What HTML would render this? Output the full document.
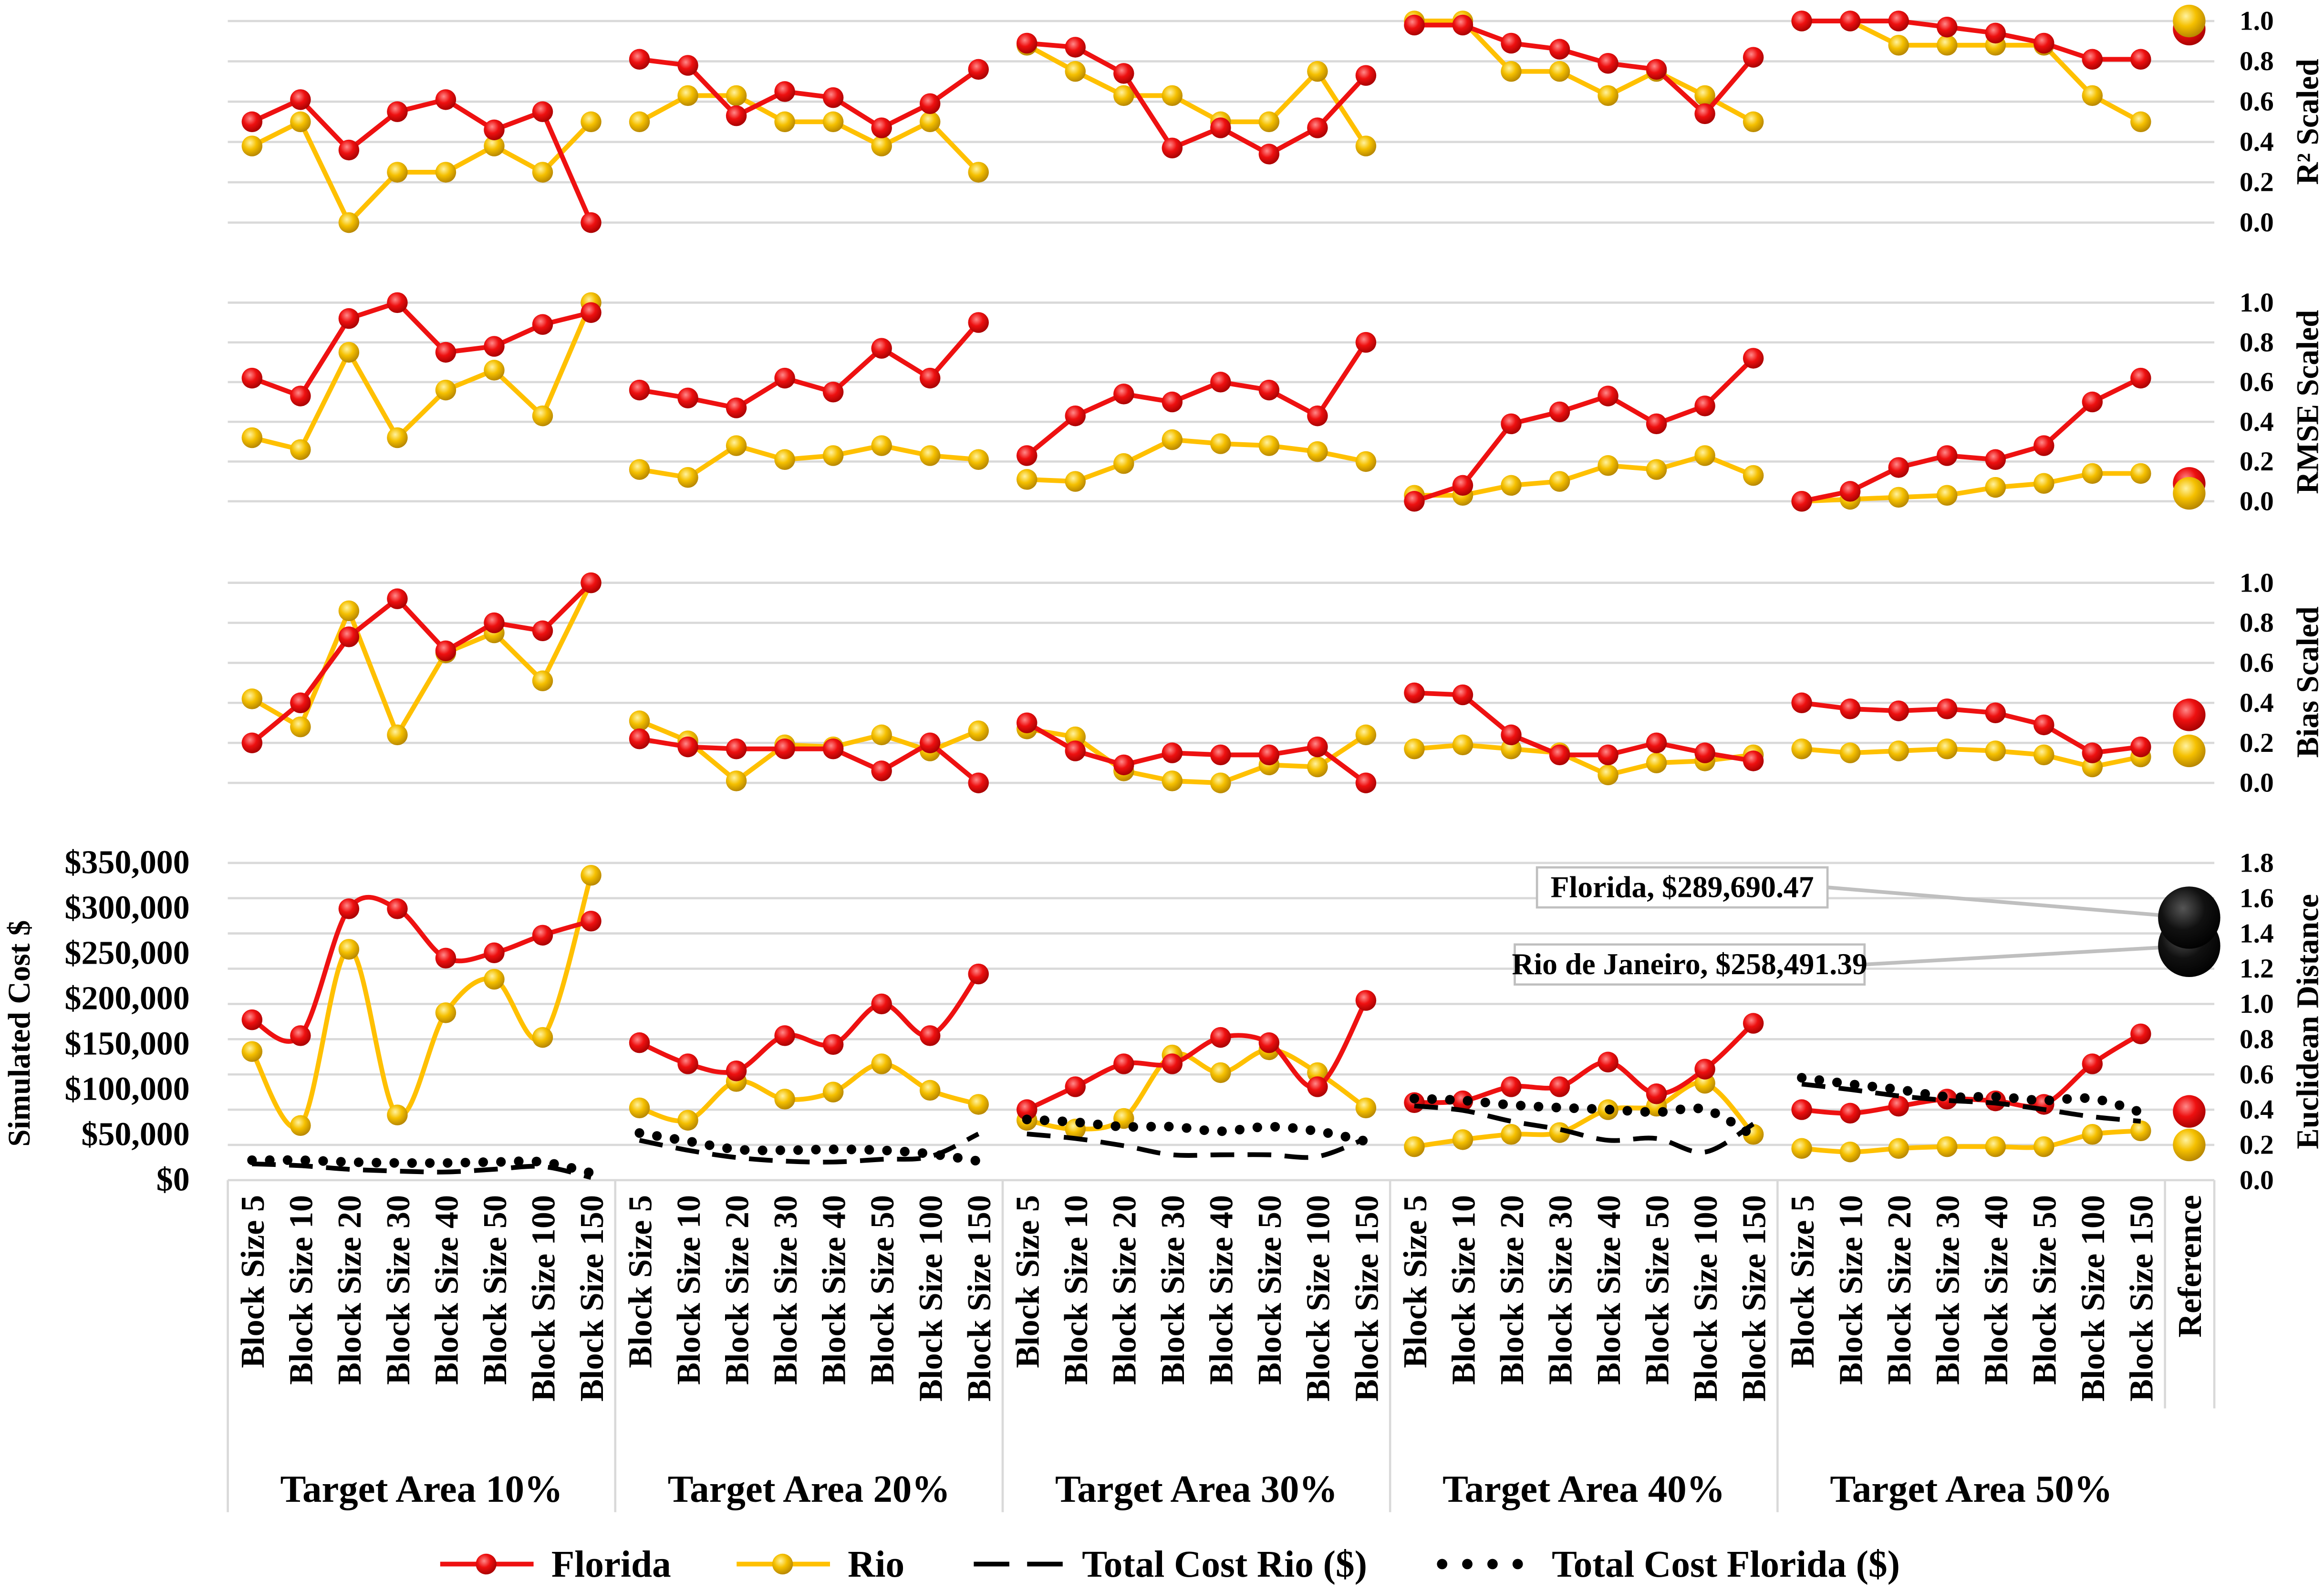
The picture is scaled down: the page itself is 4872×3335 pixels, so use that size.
<!DOCTYPE html>
<html><head><meta charset="utf-8"><style>
html,body{margin:0;padding:0;background:#fff;}
svg{display:block;}
text{font-family:"Liberation Serif",serif;font-weight:bold;fill:#000;}
</style></head><body>
<svg id="chart" width="4872" height="3335" viewBox="0 0 1568 1073" xmlns="http://www.w3.org/2000/svg">
<defs>
<radialGradient id="gRed" cx="0.4" cy="0.35" r="0.7"><stop offset="0" stop-color="#ff8a8a"/><stop offset="0.45" stop-color="#ee1010"/><stop offset="1" stop-color="#a00000"/></radialGradient>
<radialGradient id="gYel" cx="0.4" cy="0.35" r="0.7"><stop offset="0" stop-color="#fff2a0"/><stop offset="0.45" stop-color="#f5c000"/><stop offset="1" stop-color="#b08000"/></radialGradient>
<radialGradient id="gBlk" cx="0.4" cy="0.35" r="0.7"><stop offset="0" stop-color="#555"/><stop offset="0.5" stop-color="#111"/><stop offset="1" stop-color="#000"/></radialGradient>
</defs>
<g id="grid"></g>
<g id="axes"></g>
<g id="marks"></g>
<g id="legend"></g>
</svg>
<script>
const groups = ["Target Area 10%","Target Area 20%","Target Area 30%","Target Area 40%","Target Area 50%"];
const blocks = ["Block Size 5","Block Size 10","Block Size 20","Block Size 30","Block Size 40","Block Size 50","Block Size 100","Block Size 150"];
const scaledTicks = ["0.0","0.2","0.4","0.6","0.8","1.0"];
const edTicks = ["0.0","0.2","0.4","0.6","0.8","1.0","1.2","1.4","1.6","1.8"];
const costTicks = ["$0","$50,000","$100,000","$150,000","$200,000","$250,000","$300,000","$350,000"];

const r2Florida = [0.5,0.61,0.36,0.55,0.61,0.46,0.55,0.0, 0.81,0.78,0.53,0.65,0.62,0.47,0.59,0.76, 0.89,0.87,0.74,0.37,0.47,0.34,0.47,0.73, 0.98,0.98,0.89,0.86,0.79,0.76,0.54,0.82, 1.0,1.0,1.0,0.97,0.94,0.89,0.81,0.81];
const r2Rio = [0.38,0.5,0.0,0.25,0.25,0.38,0.25,0.5, 0.5,0.63,0.63,0.5,0.5,0.38,0.5,0.25, 0.88,0.75,0.63,0.63,0.5,0.5,0.75,0.38, 1.0,1.0,0.75,0.75,0.63,0.75,0.63,0.5, 1.0,1.0,0.88,0.88,0.88,0.88,0.63,0.5];
const rmseFlorida = [0.62,0.53,0.92,1.0,0.75,0.78,0.89,0.95, 0.56,0.52,0.47,0.62,0.55,0.77,0.62,0.90, 0.23,0.43,0.54,0.50,0.60,0.56,0.43,0.80, 0.0,0.08,0.39,0.45,0.53,0.39,0.48,0.72, 0.0,0.05,0.17,0.23,0.21,0.28,0.50,0.62];
const rmseRio = [0.32,0.26,0.75,0.32,0.56,0.66,0.43,1.0, 0.16,0.12,0.28,0.21,0.23,0.28,0.23,0.21, 0.11,0.10,0.19,0.31,0.29,0.28,0.25,0.20, 0.03,0.03,0.08,0.10,0.18,0.16,0.23,0.13, 0.0,0.01,0.02,0.03,0.07,0.09,0.14,0.14];
const biasFlorida = [0.2,0.4,0.73,0.92,0.66,0.8,0.76,1.0, 0.22,0.18,0.17,0.17,0.17,0.06,0.20,0.0, 0.30,0.16,0.09,0.15,0.14,0.14,0.18,0.0, 0.45,0.44,0.24,0.14,0.14,0.2,0.15,0.11, 0.4,0.37,0.36,0.37,0.35,0.29,0.15,0.18];
const biasRio = [0.42,0.28,0.86,0.24,0.65,0.75,0.51,1.0, 0.31,0.21,0.01,0.19,0.18,0.24,0.16,0.26, 0.27,0.23,0.06,0.01,0.0,0.09,0.08,0.24, 0.17,0.19,0.17,0.15,0.04,0.10,0.11,0.14, 0.17,0.15,0.16,0.17,0.16,0.14,0.08,0.13];
const edFlorida = [0.91,0.82,1.54,1.54,1.26,1.29,1.39,1.47, 0.78,0.66,0.62,0.82,0.77,1.0,0.82,1.17, 0.40,0.53,0.66,0.66,0.81,0.78,0.53,1.02, 0.44,0.45,0.53,0.53,0.67,0.49,0.63,0.89, 0.40,0.38,0.42,0.46,0.45,0.43,0.66,0.83];
const edRio = [0.73,0.31,1.31,0.37,0.95,1.14,0.81,1.73, 0.41,0.34,0.56,0.46,0.50,0.66,0.51,0.43, 0.34,0.29,0.35,0.71,0.61,0.74,0.61,0.41, 0.19,0.23,0.26,0.27,0.40,0.42,0.55,0.26, 0.18,0.16,0.18,0.19,0.19,0.19,0.26,0.28];
const costRio = [18000,16000,12000,10000,9000,12000,15000,3000, 44000,33000,25000,21000,20000,23000,26000,51000, 51000,46000,38000,28000,28000,28000,26000,46000, 82000,77000,65000,56000,44000,46000,31000,62000, 106000,100000,93000,88000,85000,78000,70000,65000];
const costFlorida = [22000,22000,20000,19000,19000,20000,20000,8000, 52000,43000,34000,33000,34000,33000,29000,21000, 67000,64000,59000,59000,54000,59000,54000,43000, 90000,88000,83000,80000,78000,75000,78000,49000, 113000,106000,100000,92000,92000,88000,90000,75000];
const refR2 = [0.96,1.0], refRmse = [0.09,0.04], refBias = [0.34,0.16], refEd = [0.39,0.20];
const refCost = [289690.47,258491.39];
const refCostLabels = ["Florida, $289,690.47","Rio de Janeiro, $258,491.39"];

const NS="http://www.w3.org/2000/svg";
function mk(tag,attrs,parent,txt){const e=document.createElementNS(NS,tag);for(const k in attrs)e.setAttribute(k,attrs[k]);if(txt!==undefined)e.textContent=txt;parent.appendChild(e);return e;}
const grid=document.getElementById('grid'),axes=document.getElementById('axes'),marks=document.getElementById('marks'),legend=document.getElementById('legend');
const X0=153.7, STEP=32.675, XR=1494;
const xOf=i=>X0+STEP*(i+0.5);
const panels=[{top:14,bot:150},{top:204,bot:338},{top:393,bot:528}];
const scaleY=(p,v)=>p.bot-(p.bot-p.top)*v;
const CB=796, CT=582;
const yCost=v=>CB-(CB-CT)*v/350000;
const yEd=v=>CB-(CB-CT)*v/1.8;

panels.forEach((p,pi)=>{
  scaledTicks.forEach((t,k)=>{
    const y=scaleY(p,k/5);
    const l=mk('line',{x1:X0,x2:XR,y1:y,y2:y,stroke:'#d9d9d9','stroke-width':1.5},grid);
    
    
    const tx=mk('text',{x:1511,y:y+6,'font-size':18.5},axes,t);
    
    
  });
});
edTicks.forEach((t,k)=>{
  const y=yEd(k*0.2);
  const l=mk('line',{x1:X0,x2:XR,y1:y,y2:y,stroke:'#d9d9d9','stroke-width':1.5},grid);
  
  
  const tx=mk('text',{x:1511,y:y+6,'font-size':18.5},axes,t);
  
  
});
costTicks.forEach((t,k)=>{
  const tx=mk('text',{x:128,y:yCost(k*50000)+7,'font-size':22.5,'text-anchor':'end'},axes,t);
  
  
});
const titles=[["R² Scaled",82],["RMSE Scaled",271],["Bias Scaled",460],["Euclidean Distance",689]];
titles.forEach(([t,y])=>{
  const tx=mk('text',{x:1564,y:y,'font-size':21,'text-anchor':'middle',transform:`rotate(-90 1564 ${y})`},axes,t);
  
  
});
{const tx=mk('text',{x:20,y:697,'font-size':21,'text-anchor':'middle',transform:'rotate(-90 20 697)'},axes,'Simulated Cost $');

}
for(let g=0;g<=5;g++){
  const x=X0+STEP*8*g;
  const l=mk('line',{x1:x,x2:x,y1:CB,y2:g<5?1020:950,stroke:'#d9d9d9','stroke-width':1.5},axes);
  
  
}
{const l=mk('line',{x1:XR,x2:XR,y1:CB,y2:950,stroke:'#d9d9d9','stroke-width':1.5},axes);

}
groups.forEach((gname,g)=>{
  blocks.forEach((b,k)=>{
    const i=g*8+k, x=xOf(i)+8;
    const tx=mk('text',{x:x,y:806,'font-size':22.6,'text-anchor':'end',transform:`rotate(-90 ${x} 806)`},axes,b);
    
    
  });
  const tx=mk('text',{x:X0+STEP*(g*8+4),y:1013,'font-size':26,'text-anchor':'middle'},axes,gname);
  
  
});
{const x=xOf(40)+8;const tx=mk('text',{x:x,y:806,'font-size':22.6,'text-anchor':'end',transform:`rotate(-90 ${x} 806)`},axes,'Reference');

}

function smoothPath(pts){
  if(pts.length<2)return '';
  let d=`M${pts[0][0]},${pts[0][1]}`;
  for(let i=0;i<pts.length-1;i++){
    const p0=pts[i-1]||pts[i],p1=pts[i],p2=pts[i+1],p3=pts[i+2]||p2;
    const c1=[p1[0]+(p2[0]-p0[0])/6,p1[1]+(p2[1]-p0[1])/6];
    const c2=[p2[0]-(p3[0]-p1[0])/6,p2[1]-(p3[1]-p1[1])/6];
    d+=` C${c1[0]},${c1[1]} ${c2[0]},${c2[1]} ${p2[0]},${p2[1]}`;
  }
  return d;
}
function series(vals,yf,color,grad,name,smooth){
  for(let g=0;g<5;g++){
    const pts=[];
    for(let k=0;k<8;k++){const i=g*8+k;pts.push([xOf(i),yf(vals[i])]);}
    const d=smooth?smoothPath(pts):'M'+pts.map(p=>p.join(',')).join(' L');
    const p=mk('path',{d:d,fill:'none',stroke:color,'stroke-width':3.2,'stroke-linejoin':'round'},marks);
    
    
    pts.forEach(pt=>{
      const c=mk('circle',{cx:pt[0],cy:pt[1],r:7,fill:`url(#${grad})`},marks);
      
      
    });
  }
}
function costSeries(vals,dotted,name){
  for(let g=0;g<5;g++){
    const pts=[];
    for(let k=0;k<8;k++){const i=g*8+k;pts.push([xOf(i),yCost(vals[i])]);}
    const attrs=dotted?{d:smoothPath(pts),fill:'none',stroke:'#000','stroke-width':6.5,'stroke-dasharray':'0 12','stroke-linecap':'round'}
                      :{d:smoothPath(pts),fill:'none',stroke:'#000','stroke-width':3.2,'stroke-dasharray':'16 9'};
    const p=mk('path',attrs,marks);
    
    
  }
}
function refPoint(v,yf,grad,r,name){
  const c=mk('circle',{cx:xOf(40),cy:yf(v),r:r,fill:`url(#${grad})`},marks);
  
  
}
series(r2Rio,v=>scaleY(panels[0],v),'#ffc000','gYel','r2-rio');
series(r2Florida,v=>scaleY(panels[0],v),'#ee1111','gRed','r2-florida');
series(rmseRio,v=>scaleY(panels[1],v),'#ffc000','gYel','rmse-rio');
series(rmseFlorida,v=>scaleY(panels[1],v),'#ee1111','gRed','rmse-florida');
series(biasRio,v=>scaleY(panels[2],v),'#ffc000','gYel','bias-rio');
series(biasFlorida,v=>scaleY(panels[2],v),'#ee1111','gRed','bias-florida');
series(edRio,yEd,'#ffc000','gYel','ed-rio',true);
series(edFlorida,yEd,'#ee1111','gRed','ed-florida',true);
costSeries(costRio,false,'total-cost-rio-line');
costSeries(costFlorida,true,'total-cost-florida-line');
refPoint(refR2[0],v=>scaleY(panels[0],v),'gRed',11,'r2-florida-reference');
refPoint(refR2[1],v=>scaleY(panels[0],v),'gYel',11,'r2-rio-reference');
refPoint(refRmse[0],v=>scaleY(panels[1],v),'gRed',11,'rmse-florida-reference');
refPoint(refRmse[1],v=>scaleY(panels[1],v),'gYel',11,'rmse-rio-reference');
refPoint(refBias[0],v=>scaleY(panels[2],v),'gRed',11,'bias-florida-reference');
refPoint(refBias[1],v=>scaleY(panels[2],v),'gYel',11,'bias-rio-reference');
refPoint(refEd[0],yEd,'gRed',11,'ed-florida-reference');
refPoint(refEd[1],yEd,'gYel',11,'ed-rio-reference');
const boxes=[[1037,585,196],[1022,637,236]];
refCost.forEach((v,j)=>{
  const [bx,by,bw]=boxes[j];
  const ly=by+13.5;
  const l1=mk('path',{d:`M${bx+bw},${ly} L${xOf(40)},${yCost(v)}`,stroke:'#bfbfbf','stroke-width':2.5,fill:'none'},marks);
  
  
});
refPoint(refCost[1],yCost,'gBlk',21,'cost-rio-reference');
refPoint(refCost[0],yCost,'gBlk',21,'cost-florida-reference');
refCost.forEach((v,j)=>{
  const [bx,by,bw]=boxes[j];
  const r=mk('rect',{x:bx,y:by,width:bw,height:27,fill:'#fff',stroke:'#bfbfbf','stroke-width':1.5},marks);
  
  
  const t=mk('text',{x:bx+bw/2,y:by+20,'font-size':20.5,'text-anchor':'middle'},marks,refCostLabels[j]);
  
  
});
const LY=1055;
function legLine(x1,x2,attrs){const l=mk('line',Object.assign({x1:x1,x2:x2,y1:LY,y2:LY},attrs),legend);}
function legText(x,t){const e=mk('text',{x:x,y:LY+8.5,'font-size':25.5},legend,t);}
legLine(297,360,{stroke:'#ee1111','stroke-width':3.2});
{const c=mk('circle',{cx:328,cy:LY,r:7,fill:'url(#gRed)'},legend);}
legText(372,'Florida');
legLine(497,560,{stroke:'#ffc000','stroke-width':3.2});
{const c=mk('circle',{cx:528,cy:LY,r:7,fill:'url(#gYel)'},legend);}
legText(572,'Rio');
legLine(657,722,{stroke:'#000','stroke-width':3.2,'stroke-dasharray':'24 12'});
legText(730,'Total Cost Rio ($)');
legLine(973,1036,{stroke:'#000','stroke-width':7,'stroke-dasharray':'0 17','stroke-linecap':'round'});
legText(1047,'Total Cost Florida ($)');
</script>
</body></html>
